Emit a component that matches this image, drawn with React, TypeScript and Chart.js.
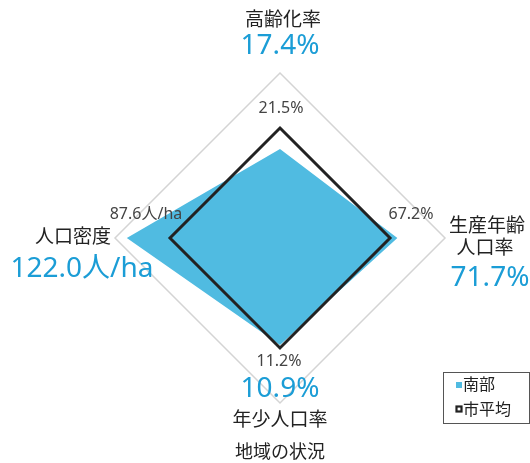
import React, { useEffect, useRef } from "react";
import { Chart, registerables } from "chart.js";

Chart.register(...registerables);

// Axis order in radar: top, right, bottom, left
const categories = ["高齢化率", "生産年齢人口率", "年少人口率", "人口密度"];
const categoryLines = [["高齢化率"], ["生産年齢", "人口率"], ["年少人口率"], ["人口密度"]];
const units = ["%", "%", "%", "人/ha"];
const regionValues = [17.4, 71.7, 10.9, 122.0];
const averageValues = [21.5, 67.2, 11.2, 87.6];
const seriesNames = ["南部", "市平均"];
const chartTitle = "地域の状況";

const FONT = '"Noto Sans", "Noto Sans CJK JP", sans-serif';
const BLUE_TEXT = "#1b9dd6";
const FILL = "#50bbe1";
const DARK = "#222222";

const labelPlugin = {
  id: "customLabels",
  afterDraw(chart: any) {
    const ctx = chart.ctx as CanvasRenderingContext2D;
    const s = chart.scales.r;
    const xc = s.xCenter;
    const yc = s.yCenter;
    const R = s.drawingArea;
    const fmt = (v: number, i: number) => v.toFixed(1) + units[i];
    ctx.save();
    ctx.textAlign = "center";
    ctx.textBaseline = "middle";

    const cat = (t: string, x: number, y: number) => {
      ctx.font = `19px ${FONT}`;
      ctx.fillStyle = DARK;
      ctx.fillText(t, x, y);
    };
    const big = (t: string, x: number, y: number) => {
      ctx.font = `28px ${FONT}`;
      ctx.fillStyle = BLUE_TEXT;
      ctx.fillText(t, x, y);
    };
    const small = (t: string, x: number, y: number) => {
      ctx.font = `16px ${FONT}`;
      ctx.fillStyle = "#444444";
      ctx.fillText(t, x, y);
    };

    // top
    cat(categoryLines[0][0], xc + 3, yc - R - 52);
    big(fmt(regionValues[0], 0), xc, yc - R - 27);
    // right
    cat(categoryLines[1][0], xc + R + 42, yc - R + 154);
    cat(categoryLines[1][1], xc + R + 40, yc - R + 176);
    big(fmt(regionValues[1], 1), xc + R + 45, yc - R + 205);
    // bottom
    big(fmt(regionValues[2], 2), xc, yc + R - 14);
    cat(categoryLines[2][0], xc, yc + R + 18);
    // left
    cat(categoryLines[3][0], xc - R - 42, yc);
    big(fmt(regionValues[3], 3), xc - R - 33, yc + 31);

    // average labels near the average polygon
    const p = (i: number) => s.getPointPositionForValue(i, 1);
    const p0 = p(0), p1 = p(1), p2 = p(2), p3 = p(3);
    small(fmt(averageValues[0], 0), p0.x + 1, p0.y - 20);
    small(fmt(averageValues[1], 1), p1.x + 21, p1.y - 24);
    small(fmt(averageValues[2], 2), p2.x - 1, p2.y + 13);
    small(fmt(averageValues[3], 3), p3.x - 24, p3.y - 24);

    // title
    ctx.font = `18px ${FONT}`;
    ctx.fillStyle = DARK;
    ctx.fillText(chartTitle, xc, yc + R + 50);

    // legend
    const lx = 443, ly = 372, lw = 86, lh = 51;
    ctx.strokeStyle = "#555555";
    ctx.lineWidth = 1;
    ctx.strokeRect(lx + 0.5, ly + 0.5, lw, lh);
    ctx.fillStyle = FILL;
    ctx.fillRect(456, 382, 6, 6);
    ctx.strokeStyle = DARK;
    ctx.lineWidth = 2.2;
    ctx.strokeRect(456.5, 406.5, 5, 5);
    ctx.textAlign = "left";
    ctx.font = `16px ${FONT}`;
    ctx.fillStyle = DARK;
    ctx.fillText(seriesNames[0], 463, 385);
    ctx.fillText(seriesNames[1], 463, 410);
    ctx.restore();
  },
};

export default function App() {
  const ref = useRef<HTMLCanvasElement | null>(null);
  useEffect(() => {
    if (!ref.current) return;
    const regionRatio = regionValues.map((v, i) => v / averageValues[i]);
    const averageRatio = averageValues.map((v, i) => v / averageValues[i]);
    const chart = new Chart(ref.current, {
      type: "radar",
      data: {
        labels: categories,
        datasets: [
          {
            label: seriesNames[1],
            data: averageRatio,
            borderColor: DARK,
            borderWidth: 3,
            backgroundColor: "rgba(0,0,0,0)",
            fill: false,
            pointRadius: 0,
            tension: 0,
          },
          {
            label: seriesNames[0],
            data: regionRatio,
            borderWidth: 0,
            borderColor: FILL,
            backgroundColor: FILL,
            fill: true,
            pointRadius: 0,
            tension: 0,
          },
        ],
      },
      options: {
        responsive: false,
        animation: false,
        layout: { padding: { left: 115, right: 85, top: 73, bottom: 60 } },
        plugins: { legend: { display: false }, tooltip: { enabled: false } },
        scales: {
          r: {
            min: 0,
            max: 1.5,
            ticks: { display: false, stepSize: 1.5 },
            pointLabels: { display: false },
            angleLines: { display: false },
            grid: { color: "#d4d4d4", lineWidth: 1.5 },
          },
        },
      },
      plugins: [labelPlugin],
    });
    return () => chart.destroy();
  }, []);
  return (
    <div style={{ position: "fixed", left: 0, top: 0, width: 530, height: 463, background: "#fff" }}>
      <canvas ref={ref} width={530} height={463} />
    </div>
  );
}
